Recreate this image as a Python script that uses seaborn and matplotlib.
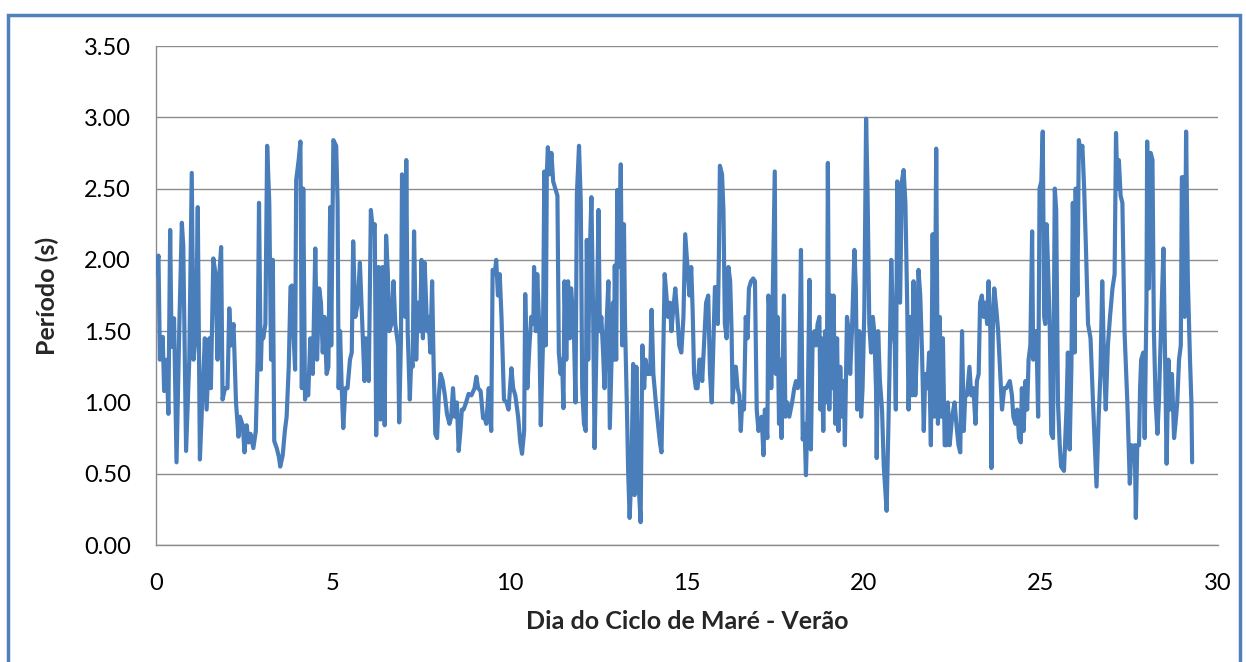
import matplotlib
matplotlib.use("Agg")
import matplotlib.pyplot as plt
import numpy as np
import pandas as pd
import seaborn as sns
from matplotlib.patches import Rectangle
from matplotlib.ticker import FormatStrFormatter

dia_1 = [0.00, 0.07, 0.11, 0.19, 0.23, 0.30, 0.35, 0.40, 0.44, 0.51, 0.58, 0.66, 0.73, 0.77, 0.85, 0.94,
         1.01, 1.06, 1.13, 1.18, 1.24, 1.32, 1.38, 1.43, 1.51, 1.55, 1.62, 1.68, 1.74, 1.79, 1.84, 1.88,
         1.95, 2.02, 2.07, 2.12, 2.19, 2.26, 2.33, 2.37, 2.45, 2.50, 2.56, 2.62, 2.67, 2.75, 2.82, 2.87, 2.91]
per_1 = [1.90, 2.03, 1.30, 1.46, 1.08, 1.30, 0.92, 2.21, 1.39, 1.59, 0.58, 1.55, 2.26, 2.10, 0.66, 1.30,
         2.61, 1.30, 1.50, 2.37, 0.60, 1.10, 1.45, 0.95, 1.45, 1.10, 2.01, 1.90, 1.30, 1.90, 2.09, 1.02,
         1.10, 1.10, 1.66, 1.40, 1.55, 1.00, 0.76, 0.90, 0.84, 0.65, 0.84, 0.72, 0.78, 0.68, 0.80, 1.30, 2.40]

dia_2 = [2.96, 2.99, 3.03, 3.09, 3.14, 3.20, 3.25, 3.30, 3.34, 3.41, 3.47, 3.51, 3.58, 3.64, 3.69, 3.75,
         3.80, 3.84, 3.88, 3.93, 3.96, 4.03, 4.08, 4.12, 4.16, 4.21, 4.26, 4.30, 4.36, 4.43, 4.50, 4.55,
         4.61, 4.66, 4.71, 4.76, 4.82, 4.87, 4.92, 4.95, 5.01, 5.09, 5.13, 5.16, 5.20, 5.24, 5.29, 5.35,
         5.41, 5.48, 5.53, 5.57, 5.63, 5.70, 5.76, 5.82, 5.89, 5.93]
per_2 = [1.23, 1.50, 1.45, 1.55, 2.80, 2.40, 1.30, 2.00, 0.73, 0.68, 0.62, 0.55, 0.63, 0.80, 0.90, 1.25,
         1.81, 1.82, 1.50, 1.23, 2.56, 2.70, 2.83, 1.10, 2.50, 1.02, 1.10, 1.05, 1.45, 1.20, 2.08, 1.30,
         1.80, 1.70, 1.35, 1.60, 1.20, 1.25, 2.37, 1.40, 2.84, 2.80, 2.40, 1.10, 1.50, 1.15, 0.82, 1.10,
         1.10, 1.30, 1.35, 2.13, 1.60, 1.70, 1.98, 1.60, 1.15, 1.45]

dia_3 = [6.01, 6.07, 6.13, 6.18, 6.22, 6.29, 6.34, 6.40, 6.46, 6.50, 6.55, 6.59, 6.65, 6.71, 6.76, 6.84,
         6.87, 6.92, 6.95, 7.00, 7.04, 7.07, 7.11, 7.17, 7.21, 7.25, 7.29, 7.35, 7.40, 7.46, 7.50, 7.54,
         7.59, 7.66, 7.70, 7.75, 7.80, 7.84, 7.89, 7.94, 7.99, 8.04, 8.10, 8.16, 8.22, 8.29, 8.34, 8.39,
         8.44, 8.50, 8.55, 8.60, 8.64, 8.69, 8.76, 8.83, 8.91]
per_3 = [1.15, 2.35, 2.20, 2.25, 0.77, 1.95, 0.88, 1.95, 0.84, 2.17, 1.90, 1.50, 1.55, 1.85, 1.55, 1.40,
         0.86, 1.45, 2.60, 1.70, 1.60, 2.70, 1.50, 1.02, 1.30, 1.25, 2.20, 1.30, 1.70, 1.50, 2.00, 1.45,
         1.98, 1.50, 1.60, 1.35, 1.85, 1.30, 0.78, 0.75, 1.05, 1.20, 1.15, 1.05, 0.92, 0.85, 0.90, 1.10,
         0.90, 1.00, 0.66, 0.80, 0.95, 0.95, 1.00, 1.06, 1.05]

dia_4 = [9.00, 9.05, 9.10, 9.17, 9.24, 9.28, 9.33, 9.40, 9.44, 9.47, 9.51, 9.57, 9.61, 9.66, 9.71, 9.76,
         9.83, 9.90, 9.96, 10.04, 10.09, 10.15, 10.23, 10.29, 10.34, 10.40, 10.43, 10.49, 10.55, 10.60,
         10.66, 10.68, 10.73, 10.77, 10.83, 10.87, 10.93, 10.97, 11.01, 11.04, 11.07, 11.12, 11.17, 11.22,
         11.28, 11.34, 11.38, 11.43, 11.47, 11.51, 11.54, 11.59, 11.64, 11.69, 11.73, 11.81, 11.85, 11.89, 11.95]
per_4 = [1.10, 1.18, 1.10, 1.08, 0.89, 0.90, 0.85, 1.10, 0.90, 0.80, 1.93, 1.90, 2.00, 1.75, 1.90, 1.60,
         1.02, 1.00, 0.95, 1.24, 1.10, 1.05, 0.90, 0.72, 0.64, 0.80, 1.76, 1.10, 1.40, 1.60,
         1.55, 1.95, 1.50, 1.90, 1.50, 0.84, 1.40, 2.62, 1.40, 2.60, 2.79, 2.60, 2.75, 2.55,
         2.50, 2.45, 1.35, 1.20, 1.30, 0.96, 1.85, 1.30, 1.85, 1.45, 1.80, 1.45, 1.00, 2.46, 2.80]

dia_5 = [12.00, 12.04, 12.09, 12.14, 12.17, 12.21, 12.25, 12.30, 12.35, 12.39, 12.45, 12.50, 12.54, 12.58,
         12.63, 12.67, 12.72, 12.78, 12.82, 12.86, 12.91, 12.94, 12.96, 13.00, 13.03, 13.08, 13.13, 13.17,
         13.22, 13.25, 13.30, 13.34, 13.38, 13.43, 13.48, 13.52, 13.57, 13.63, 13.69, 13.74, 13.79, 13.83,
         13.88, 13.96, 14.00, 14.05, 14.12, 14.18, 14.24, 14.28, 14.33, 14.37, 14.42, 14.46, 14.52, 14.56,
         14.61, 14.67, 14.73, 14.78, 14.84, 14.90, 14.95]
per_5 = [2.40, 1.10, 0.85, 0.80, 2.14, 1.30, 2.00, 2.44, 1.60, 0.68, 1.50, 2.35, 1.50, 1.60,
         1.35, 1.10, 1.50, 1.85, 0.82, 1.20, 1.70, 1.30, 1.96, 1.30, 2.49, 1.95, 2.67, 1.40,
         2.25, 1.55, 1.00, 0.50, 0.19, 0.50, 1.27, 0.35, 1.25, 0.45, 0.16, 1.40, 1.10, 1.30,
         1.20, 1.20, 1.65, 1.20, 1.00, 0.85, 0.71, 0.65, 1.35, 1.90, 1.75, 1.60, 1.70, 1.50,
         1.65, 1.80, 1.60, 1.40, 1.35, 1.60, 2.18]

dia_6 = [15.07, 15.12, 15.16, 15.20, 15.25, 15.30, 15.35, 15.39, 15.43, 15.48, 15.54, 15.60, 15.65, 15.70,
         15.74, 15.79, 15.84, 15.87, 15.90, 15.93, 15.99, 16.03, 16.07, 16.12, 16.17, 16.22, 16.26, 16.29,
         16.34, 16.38, 16.43, 16.48, 16.52, 16.56, 16.61, 16.66, 16.71, 16.75, 16.81, 16.87, 16.92, 16.97,
         17.02, 17.06, 17.11, 17.16, 17.20, 17.27, 17.30, 17.35, 17.38, 17.43, 17.48, 17.51, 17.56, 17.60,
         17.63, 17.67, 17.74, 17.78, 17.83, 17.89, 17.97]
per_6 = [1.75, 1.95, 1.65, 1.20, 1.10, 1.10, 1.30, 1.30, 1.15, 1.40, 1.70, 1.75, 1.20, 1.00,
         1.35, 1.81, 1.75, 1.55, 2.00, 2.66, 2.60, 2.35, 1.55, 1.45, 1.95, 1.85, 1.50, 1.00,
         1.25, 1.25, 1.10, 1.05, 0.80, 1.00, 0.95, 1.60, 1.45, 1.80, 1.85, 1.87, 1.85, 0.95,
         0.80, 0.85, 0.90, 0.63, 0.95, 0.75, 1.75, 1.60, 1.10, 1.85, 2.62, 1.20, 1.60, 0.85,
         1.30, 0.75, 1.75, 0.90, 1.00, 0.90, 1.00]

dia_7 = [18.03, 18.08, 18.13, 18.17, 18.22, 18.27, 18.32, 18.36, 18.41, 18.46, 18.50, 18.55, 18.60, 18.64,
         18.69, 18.74, 18.77, 18.80, 18.85, 18.90, 18.95, 18.98, 19.02, 19.07, 19.12, 19.14, 19.19, 19.24,
         19.28, 19.33, 19.38, 19.43, 19.46, 19.52, 19.57, 19.61, 19.66, 19.73, 19.77, 19.81, 19.87, 19.92,
         19.96, 20.01, 20.06, 20.10, 20.15, 20.20, 20.25, 20.29, 20.34, 20.36, 20.40, 20.45, 20.51, 20.56,
         20.64, 20.72, 20.77, 20.83, 20.87, 20.90, 20.94]
per_7 = [1.10, 1.15, 1.10, 1.15, 2.07, 0.74, 0.85, 0.49, 0.95, 1.86, 0.67, 1.45, 1.50, 1.40,
         1.55, 1.60, 0.95, 1.45, 0.80, 1.50, 1.00, 2.68, 0.95, 1.75, 1.10, 1.75, 0.85, 1.45,
         0.80, 1.25, 0.90, 1.15, 0.70, 1.60, 1.50, 1.20, 1.50, 2.07, 1.80, 0.95, 1.50, 0.90,
         1.10, 1.65, 2.99, 2.50, 1.55, 1.35, 1.60, 1.50, 1.10, 0.61, 1.50, 1.15, 0.95, 0.55,
         0.24, 1.20, 2.00, 1.50, 1.40, 0.95, 2.55]

dia_8 = [21.02, 21.07, 21.12, 21.17, 21.22, 21.26, 21.31, 21.36, 21.40, 21.45, 21.50, 21.54, 21.59, 21.64,
         21.69, 21.73, 21.79, 21.84, 21.89, 21.94, 21.99, 22.04, 22.09, 22.14, 22.19, 22.23, 22.28, 22.33,
         22.37, 22.42, 22.49, 22.56, 22.61, 22.67, 22.72, 22.77, 22.82, 22.86, 22.91, 22.98, 23.03, 23.09,
         23.15, 23.19, 23.24, 23.28, 23.33, 23.38, 23.43, 23.48, 23.52, 23.57, 23.60, 23.64, 23.68, 23.74,
         23.79, 23.84, 23.90, 23.96]
per_8 = [1.70, 2.55, 2.63, 2.40, 1.70, 0.95, 1.60, 1.05, 1.85, 1.05, 1.40, 1.93, 1.75, 1.35,
         0.80, 1.20, 1.10, 1.35, 0.70, 2.18, 0.90, 2.78, 0.85, 1.60, 0.90, 1.45, 0.70, 0.70,
         1.00, 0.70, 0.90, 1.00, 0.85, 0.70, 0.65, 1.50, 0.80, 1.05, 1.05, 1.25, 1.05, 1.10,
         0.85, 1.15, 1.20, 1.70, 1.75, 1.60, 1.70, 1.55, 1.85, 1.50, 0.54, 1.50, 1.80, 1.65,
         1.50, 1.25, 0.95, 1.10]

dia_9 = [24.02, 24.12, 24.18, 24.22, 24.28, 24.33, 24.38, 24.43, 24.46, 24.51, 24.56, 24.61, 24.65, 24.70,
         24.75, 24.78, 24.82, 24.87, 24.92, 24.96, 25.01, 25.05, 25.09, 25.12, 25.16, 25.20, 25.25, 25.29,
         25.34, 25.39, 25.43, 25.48, 25.53, 25.57, 25.65, 25.72, 25.76, 25.81, 25.86, 25.90, 25.95, 25.98,
         26.03, 26.07, 26.12, 26.17, 26.22, 26.28, 26.33, 26.40, 26.47, 26.52, 26.57, 26.63, 26.68, 26.73,
         26.78, 26.83, 26.89, 26.95]
per_9 = [1.10, 1.15, 1.05, 0.90, 0.85, 0.95, 0.75, 0.72, 1.10, 0.80, 1.15, 0.95, 1.30, 1.40,
         2.20, 1.30, 1.50, 1.50, 0.90, 2.50, 2.55, 2.90, 1.60, 1.55, 2.25, 1.95, 1.50, 0.78,
         0.75, 2.50, 2.35, 1.00, 0.70, 0.55, 0.52, 0.95, 1.35, 0.67, 1.25, 2.40, 1.35, 2.50,
         1.75, 2.84, 2.75, 2.80, 2.50, 2.00, 1.55, 1.45, 1.00, 0.70, 0.41, 0.90, 1.20, 1.85,
         1.30, 0.95, 1.40, 1.60]

dia_10 = [27.02, 27.08, 27.12, 27.16, 27.20, 27.25, 27.30, 27.36, 27.44, 27.51, 27.56, 27.61, 27.65, 27.68,
          27.72, 27.77, 27.80, 27.83, 27.89, 27.93, 27.98, 28.00, 28.05, 28.10, 28.15, 28.19, 28.24, 28.29,
          28.33, 28.40, 28.46, 28.50, 28.55, 28.60, 28.64, 28.70, 28.76, 28.80, 28.85, 28.90, 28.95, 28.98,
          29.02, 29.06, 29.10, 29.15, 29.21, 29.25, 29.27]
per_10 = [1.80, 1.90, 2.89, 2.50, 2.70, 2.45, 2.40, 1.50, 1.00, 0.43, 0.70, 0.65, 0.70, 0.19,
          0.70, 0.70, 1.10, 1.30, 1.35, 0.75, 1.70, 2.83, 1.80, 2.75, 2.70, 1.50, 1.00, 0.78,
          1.00, 1.60, 2.08, 1.40, 0.57, 1.30, 0.95, 1.20, 0.75, 0.85, 1.00, 1.30, 1.40, 2.58,
          2.58, 1.60, 2.90, 1.85, 1.30, 1.00, 0.58]

y_ticks = [0.0, 0.5, 1.0, 1.5, 2.0, 2.5, 3.0, 3.5]
x_ticks = [0, 5, 10, 15, 20, 25, 30]

dias = dia_1 + dia_2 + dia_3 + dia_4 + dia_5 + dia_6 + dia_7 + dia_8 + dia_9 + dia_10
periodos = per_1 + per_2 + per_3 + per_4 + per_5 + per_6 + per_7 + per_8 + per_9 + per_10
df = pd.DataFrame({"dia": dias, "periodo": periodos})

sns.set_style("white")
plt.rcParams["font.family"] = ["Lato", "DejaVu Sans"]

fig = plt.figure(figsize=(12.46, 6.62), dpi=100)
ax = fig.add_axes([0.1252, 0.1767, 0.8523, 0.7538])

sns.lineplot(data=df, x="dia", y="periodo", ax=ax, color="#4a7ebb",
             linewidth=3.0, estimator=None, sort=False, zorder=3)

ax.set_xlim(0, 30)
ax.set_ylim(0, 3.5)
ax.set_xticks(x_ticks)
ax.set_yticks(y_ticks)
ax.yaxis.set_major_formatter(FormatStrFormatter("%.2f"))
ax.grid(axis="y", color="#8c8c8c", linewidth=1.0)
ax.set_axisbelow(True)

for side in ["top", "right"]:
    ax.spines[side].set_visible(False)
for side in ["left", "bottom"]:
    ax.spines[side].set_color("#8c8c8c")
    ax.spines[side].set_linewidth(1.0)

ax.tick_params(axis="both", direction="out", length=6, width=1, color="#8c8c8c",
               labelsize=17, labelcolor="black")
ax.tick_params(axis="y", pad=12)
ax.tick_params(axis="x", pad=14)

ax.set_xlabel("Dia do Ciclo de Maré - Verão", fontsize=18, fontweight="bold", labelpad=12)
ax.set_ylabel("Período (s)", fontsize=18, fontweight="bold", labelpad=18)

# moldura do gráfico
fig.patches.append(Rectangle((8 / 1246, -0.01), (1240 - 8) / 1246, 1 - 15 / 662 + 0.01,
                             transform=fig.transFigure, fill=False,
                             edgecolor="#4f81bd", linewidth=2.5))

fig.savefig("out.png", dpi=100)
